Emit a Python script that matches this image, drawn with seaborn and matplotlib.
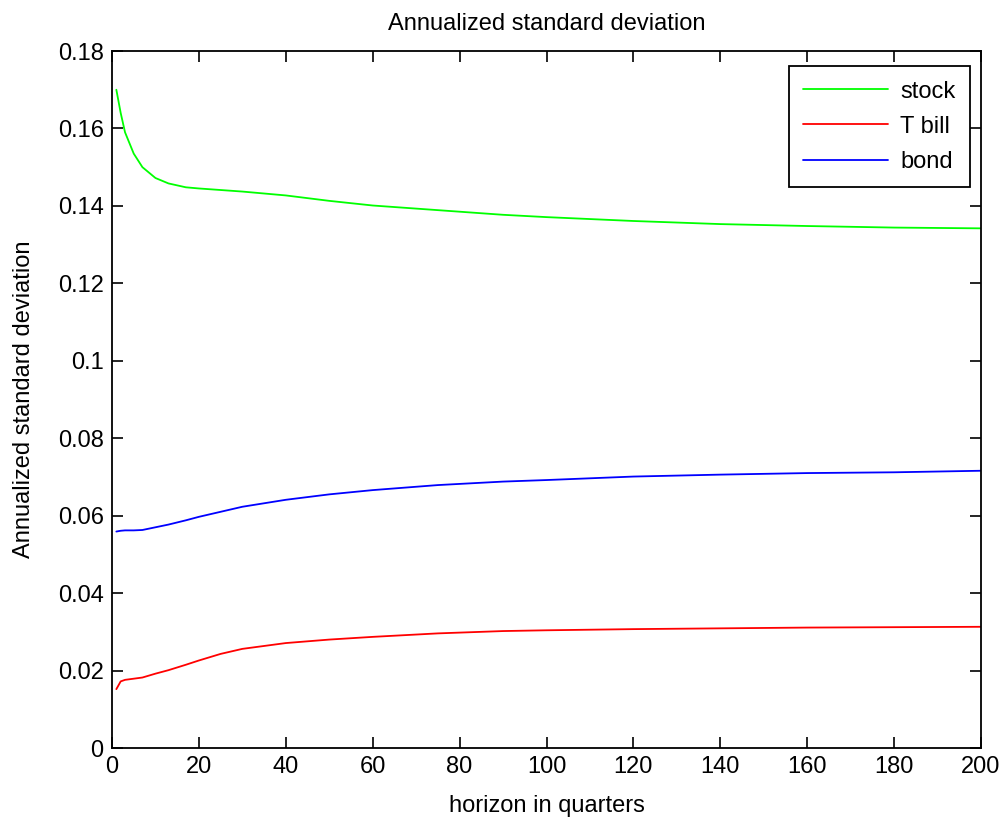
import numpy as np
import pandas as pd
import matplotlib
matplotlib.use("Agg")
import matplotlib.pyplot as plt
import seaborn as sns

# Forecast horizon (quarters) and annualized standard deviation of returns
horizon = [1, 2, 3, 5, 7, 10, 13, 17, 20, 25, 30, 40, 50, 60, 75, 90, 100,
           120, 140, 160, 180, 200]
stock = [0.1700, 0.1640, 0.1590, 0.1535, 0.1500, 0.1472, 0.1458, 0.1448,
         0.1445, 0.1441, 0.1437, 0.1427, 0.1413, 0.1401, 0.1389, 0.1377,
         0.1371, 0.1361, 0.1353, 0.1348, 0.1344, 0.1342]
tbill = [0.0152, 0.0172, 0.0176, 0.0179, 0.0182, 0.0192, 0.0201, 0.0215,
         0.0226, 0.0243, 0.0256, 0.0271, 0.0280, 0.0287, 0.0296, 0.0302,
         0.0304, 0.0307, 0.0309, 0.0311, 0.0312, 0.0313]
bond = [0.0559, 0.0561, 0.0562, 0.0562, 0.0563, 0.0570, 0.0577, 0.0588,
        0.0597, 0.0610, 0.0623, 0.0641, 0.0655, 0.0666, 0.0679, 0.0688,
        0.0692, 0.0701, 0.0706, 0.0710, 0.0712, 0.0716]

series_names = ["stock", "T bill", "bond"]
series_colors = ["#00ff00", "#ff0000", "#0000ff"]

x_ticks = [0, 20, 40, 60, 80, 100, 120, 140, 160, 180, 200]
y_ticks = [0, 0.02, 0.04, 0.06, 0.08, 0.1, 0.12, 0.14, 0.16, 0.18]
y_tick_labels = ["0", "0.02", "0.04", "0.06", "0.08", "0.1", "0.12",
                 "0.14", "0.16", "0.18"]

df = pd.DataFrame({
    "horizon": horizon * 3,
    "sd": stock + tbill + bond,
    "series": [series_names[0]] * len(horizon)
              + [series_names[1]] * len(horizon)
              + [series_names[2]] * len(horizon),
})

sns.set_theme(style="white")
plt.rcParams["font.family"] = ["Liberation Sans", "DejaVu Sans"]
plt.rcParams["text.color"] = "black"
FS = 17

fig = plt.figure(figsize=(10.04, 8.21), dpi=100)
ax = fig.add_axes([112 / 1004, 1 - 748 / 821, 869 / 1004, 697 / 821])

sns.lineplot(data=df, x="horizon", y="sd", hue="series",
             hue_order=series_names, palette=series_colors,
             linewidth=1.3, ax=ax, estimator=None, sort=False)

ax.set_xlim(0, 200)
ax.set_ylim(0, 0.18)
ax.set_xticks(x_ticks)
ax.set_xticklabels([str(t) for t in x_ticks], fontsize=FS)
ax.set_yticks(y_ticks)
ax.set_yticklabels(y_tick_labels, fontsize=FS)
ax.tick_params(direction="in", length=8, width=1.2, color="black",
               top=True, right=True, bottom=True, left=True,
               labelcolor="black", pad=6)

for sp in ax.spines.values():
    sp.set_visible(True)
    sp.set_color("black")
    sp.set_linewidth(1.3)

ax.set_title("Annualized standard deviation", fontsize=FS, color="black", pad=15)
ax.set_xlabel("horizon in quarters", fontsize=FS, color="black", labelpad=12)
ax.set_ylabel("Annualized standard deviation", fontsize=FS, color="black",
              labelpad=16)

leg = ax.legend(loc="upper right", bbox_to_anchor=(0.987, 0.978),
                fontsize=FS, frameon=True, fancybox=False, framealpha=1,
                edgecolor="black", handlelength=3.6, handletextpad=0.5,
                borderpad=0.6, labelspacing=0.56, borderaxespad=0)
leg.get_frame().set_linewidth(1.3)
for line in leg.get_lines():
    line.set_linewidth(1.3)
for txt in leg.get_texts():
    txt.set_color("black")

fig.savefig("out.png", dpi=100, facecolor="white")
